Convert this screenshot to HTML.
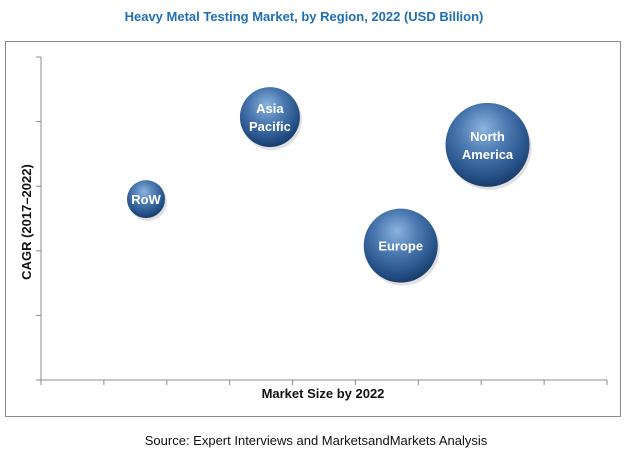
<!DOCTYPE html>
<html><head><meta charset="utf-8"><style>
body{margin:0;background:#fff;}
svg text{font-family:"Liberation Sans",sans-serif;}
</style></head><body>
<svg width="626" height="456" viewBox="0 0 626 456">
<defs>
<radialGradient id="g" cx="0.45" cy="0.35" r="0.65" fx="0.45" fy="0.3">
<stop offset="0" stop-color="#8db4e0"/><stop offset="0.45" stop-color="#4a78b0"/><stop offset="0.85" stop-color="#234f85"/><stop offset="1" stop-color="#1a3d6a"/>
</radialGradient>
</defs>
<text x="304" y="21" text-anchor="middle" font-size="13" font-weight="bold" fill="#1f6fb4">Heavy Metal Testing Market, by Region, 2022  (USD Billion)</text>
<rect x="5.5" y="41.5" width="615" height="375" fill="none" stroke="#8c8c8c"/>
<g id="axes"></g>
<g id="bubbles"></g>
<text x="323" y="398" text-anchor="middle" font-size="13" font-weight="bold" fill="#111">Market Size by 2022</text>
<text transform="translate(31,222) rotate(-90)" text-anchor="middle" font-size="13" font-weight="bold" fill="#111">CAGR (2017–2022)</text>
<text x="316" y="445" text-anchor="middle" font-size="13" fill="#111">Source: Expert Interviews and MarketsandMarkets Analysis</text>
</svg>
<script>
const regions=["RoW","Asia Pacific","North America","Europe"];
const labelLines=[["RoW"],["Asia","Pacific"],["North","America"],["Europe"]];
const marketSize=[1.67,3.64,7.1,5.72];
const cagr=[2.8,4.07,3.64,2.08];
const bubbleSize=[19,30,42,37];
const xTicks=[0,1,2,3,4,5,6,7,8,9];
const yTicks=[0,1,2,3,4,5];
const NS="http://www.w3.org/2000/svg";
const x0=41,x1=607,y0=380,y1=57;
const xs=v=>x0+(x1-x0)*v/9, ys=v=>y0-(y0-y1)*v/5;
const ax=document.getElementById('axes'), bg=document.getElementById('bubbles');
function mk(t,a,p){const e=document.createElementNS(NS,t);for(const k in a)e.setAttribute(k,a[k]);p.appendChild(e);return e;}
const yl=mk('line',{x1:x0,y1:y0,x2:x0,y2:y1,stroke:'#8c8c8c'},ax);


const xl=mk('line',{x1:x0,y1:y0,x2:x1,y2:y0,stroke:'#8c8c8c'},ax);


xTicks.forEach(t=>{const e=mk('line',{x1:xs(t),y1:y0,x2:xs(t),y2:y0+5,stroke:'#8c8c8c'},ax);

});
yTicks.forEach(t=>{const e=mk('line',{x1:x0-5,y1:ys(t),x2:x0,y2:ys(t),stroke:'#8c8c8c'},ax);

});
regions.forEach((r,i)=>{
const g=mk('g',{},bg);


const cx=xs(marketSize[i]),cy=ys(cagr[i]);
mk('circle',{cx:cx+2,cy:cy+3,r:bubbleSize[i],fill:'#000',opacity:0.12},g);
mk('circle',{cx:cx,cy:cy,r:bubbleSize[i],fill:'url(#g)'},g);
const L=labelLines[i];
L.forEach((s,j)=>{const t=mk('text',{x:cx,y:cy+5+(j-(L.length-1)/2)*18,'text-anchor':'middle','font-size':13,'font-weight':'bold',fill:'#fff'},g);t.textContent=s;});
});
</script>
</body></html>
